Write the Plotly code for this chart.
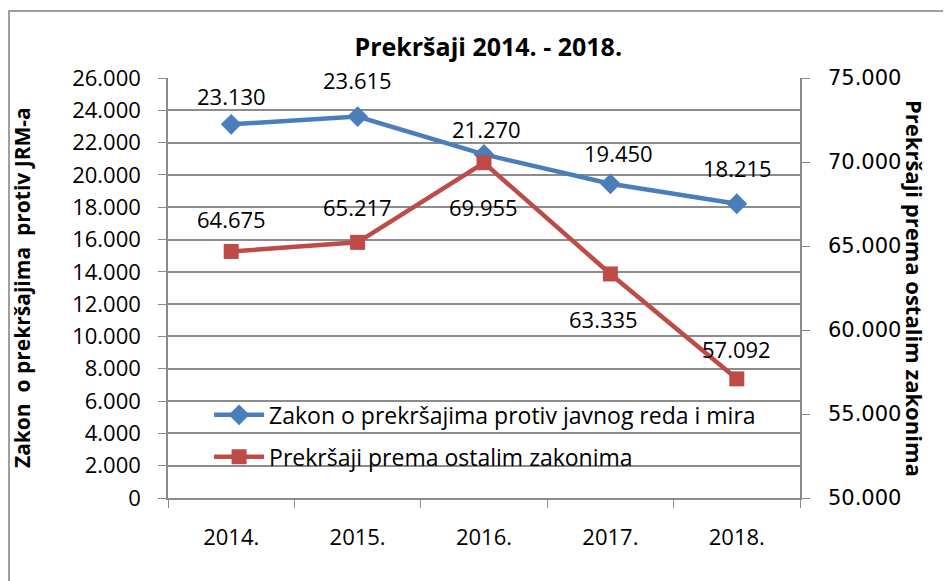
import plotly.graph_objects as go

years = ["2014.", "2015.", "2016.", "2017.", "2018."]
jrm = [23130, 23615, 21270, 19450, 18215]
ostali = [64675, 65217, 69955, 63335, 57092]
jrm_labels = ["23.130", "23.615", "21.270", "19.450", "18.215"]
ostali_labels = ["64.675", "65.217", "69.955", "63.335", "57.092"]
left_ticks = list(range(0, 26001, 2000))
left_ticktext = ["0"] + [f"{v//1000}.000" for v in left_ticks[1:]]
right_ticks = list(range(50000, 75001, 5000))
right_ticktext = [f"{v//1000}.000" for v in right_ticks]

# label offsets (pixels) - styling only
jrm_dx = [0, 0, 2, 8, 1]
jrm_dy = [28, 37, 25, 31, 36]
ostali_dx = [0, 0, -1, -7, 0]
ostali_dy = [32, 35, -44, -45, 30]

FONT = "Open Sans, Noto Sans, Liberation Sans, Arial"
BLUE = "#4a7ebb"
RED = "#be4b48"
GRID = "#8c8c8c"

fig = go.Figure()
fig.add_trace(go.Scatter(
    x=years, y=jrm, name="Zakon o prekršajima protiv javnog reda i mira",
    mode="lines+markers",
    line=dict(color=BLUE, width=4.5),
    marker=dict(symbol="diamond", size=16, color=BLUE),
    yaxis="y", legend="legend", cliponaxis=False))
fig.add_trace(go.Scatter(
    x=years, y=ostali, name="Prekršaji prema ostalim zakonima",
    mode="lines+markers",
    line=dict(color=RED, width=4.5),
    marker=dict(symbol="square", size=15, color=RED),
    yaxis="y2", legend="legend2", cliponaxis=False))

for i, (y, t, dx, dy) in enumerate(zip(jrm, jrm_labels, jrm_dx, jrm_dy)):
    fig.add_annotation(x=i, y=y, xref="x", yref="y", text=t, showarrow=False,
                       xshift=dx, yshift=dy, font=dict(size=22, family=FONT, color="#000"))
for i, (y, t, dx, dy) in enumerate(zip(ostali, ostali_labels, ostali_dx, ostali_dy)):
    fig.add_annotation(x=i, y=y, xref="x", yref="y2", text=t, showarrow=False,
                       xshift=dx, yshift=dy, font=dict(size=22, family=FONT, color="#000"))

fig.update_layout(
    width=951, height=581,
    margin=dict(l=160, r=159, t=70, b=91),
    paper_bgcolor="white", plot_bgcolor="white",
    font=dict(family=FONT, size=21, color="#000"),
    title=dict(text="<b>Prekršaji 2014. - 2018.</b>", x=0.505, xanchor="center",
               y=0.933, yanchor="middle", font=dict(size=25, family=FONT)),
    xaxis=dict(type="category", range=[-0.5, 4.5], tickson="boundaries",
               ticks="outside", ticklen=8,
               tickcolor=GRID, showline=True, linecolor=GRID, linewidth=1.5,
               showgrid=False, tickfont=dict(size=22), ticklabelstandoff=19,
               automargin=False),
    yaxis=dict(range=[0, 26000], tickvals=left_ticks, ticktext=left_ticktext,
               ticks="outside", ticklen=8, tickcolor=GRID, showline=True,
               linecolor=GRID, linewidth=1.5, gridcolor=GRID, gridwidth=1.5,
               zeroline=False, tickfont=dict(size=22), automargin=False,
               ticklabelstandoff=13),
    yaxis2=dict(range=[50000, 75000], tickvals=right_ticks, ticktext=right_ticktext,
                overlaying="y", side="right", ticks="outside", ticklen=8,
                tickcolor=GRID, showline=True, linecolor=GRID, linewidth=1.5,
                showgrid=False, zeroline=False, automargin=False,
                tickfont=dict(size=21, family="DejaVu Sans, Verdana"),
                ticklabelstandoff=14),
    legend=dict(x=0.065, y=0.198, xanchor="left", yanchor="middle", itemwidth=50,
                bgcolor="rgba(0,0,0,0)", font=dict(size=23)),
    legend2=dict(x=0.065, y=0.098, xanchor="left", yanchor="middle", itemwidth=50,
                 bgcolor="rgba(0,0,0,0)", font=dict(size=23)),
    showlegend=True,
)
fig.add_annotation(text="<b>Zakon  o prekršajima  protiv JRM-a</b>", textangle=-90,
                   xref="paper", yref="paper", x=-0.231, y=0.5, showarrow=False,
                   xanchor="center", yanchor="middle",
                   font=dict(size=21, family=FONT))
fig.add_annotation(text="<b>Prekršaji prema ostalim zakonima</b>", textangle=90,
                   xref="paper", yref="paper", x=1.182, y=0.5, showarrow=False,
                   xanchor="center", yanchor="middle",
                   font=dict(size=22, family=FONT))
fig.add_shape(type="rect", xref="paper", yref="paper",
              x0=(1 - 160) / 632, y0=-0.5, x1=1.5, y1=(490 - 3) / 420,
              line=dict(color="#808080", width=1.5), layer="below")

fig.write_html("out.html")
